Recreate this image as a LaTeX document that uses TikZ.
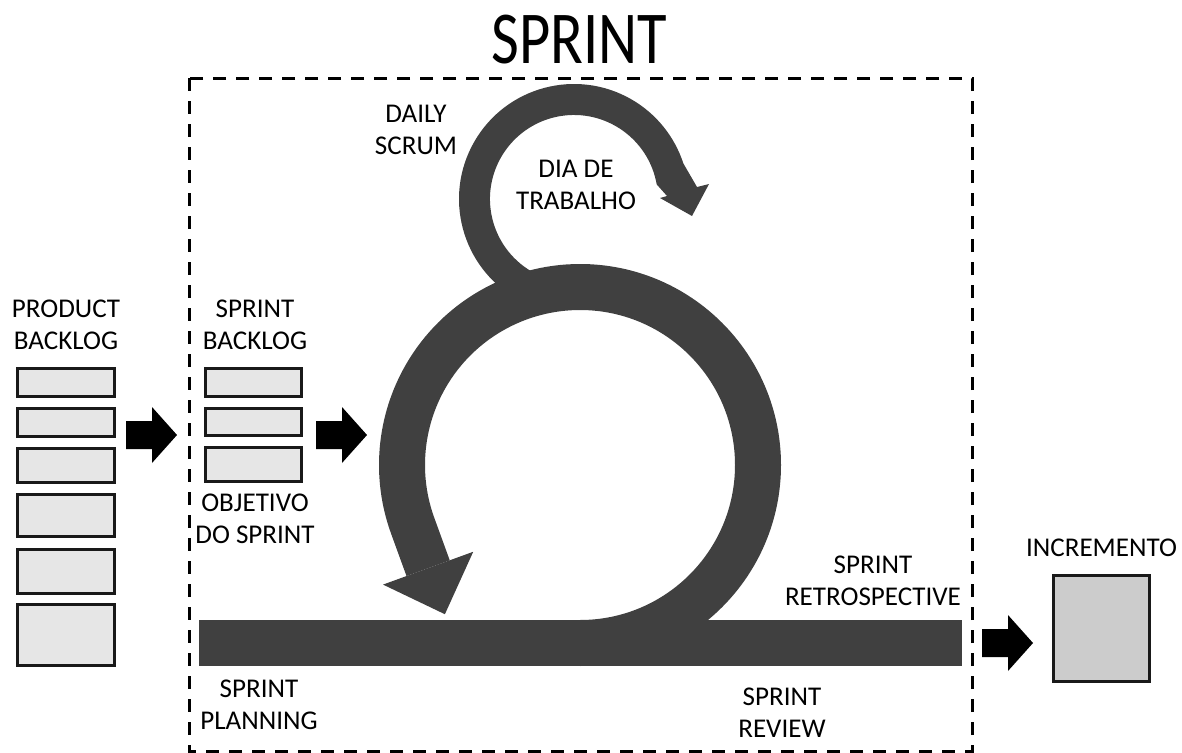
\documentclass[tikz,border=0pt]{standalone}
\usepackage{fontspec}
\setmainfont{Carlito}
\usetikzlibrary{calc}
\definecolor{scrumgray}{HTML}{404040}
\definecolor{itemgray}{HTML}{E6E6E6}
\definecolor{incgray}{HTML}{CCCCCC}
\begin{document}
\begin{tikzpicture}[x=0.75pt,y=-0.75pt,
  lbl/.style={font=\fontsize{20.3}{24}\selectfont, align=center, inner sep=0pt, anchor=base},
  item/.style={draw=black!90, line width=2.25pt, fill=itemgray},
  frame/.style={draw=black, line width=2.25pt, dash pattern=on 9.75pt off 7.5pt},
  band/.style={draw=scrumgray, line cap=butt},
  pics/blockarrow/.style={code={
    \fill[black] (0,-14) -- (26,-14) -- (26,-28) -- (51,0) -- (26,28) -- (26,14) -- (0,14) -- cycle;}}]
\useasboundingbox (0,0) rectangle (1182,753);

% title and sprint frame
\node[font=\fontsize{56}{60}\selectfont, inner sep=0pt, anchor=base] (title) at (579.5,63) {\scalebox{0.81}[1]{SPRINT}};
\draw[frame] (189,78) rectangle (972,751);

% product backlog (label anchored on its last baseline)
\node[lbl] (pb) at (66,349) {PRODUCT\\BACKLOG};
\draw[item] (17.5,368.5) rectangle (114.5,396.5);
\draw[item] (17.5,408.5) rectangle (114.5,436.5);
\draw[item] (17.5,448.5) rectangle (114.5,482.5);
\draw[item] (17.5,494.5) rectangle (114.5,536.5);
\draw[item] (17.5,549.5) rectangle (114.5,593.5);
\draw[item] (17.5,604.5) rectangle (114.5,665.5);

% sprint backlog
\node[lbl] (sb) at (255,349) {SPRINT\\BACKLOG};
\draw[item] (205.5,368.5) rectangle (301.5,396.5);
\draw[item] (205.5,408.5) rectangle (301.5,435.5);
\draw[item] (205.5,447.5) rectangle (301.5,481.5);
\node[lbl] (goal) at (255,543) {OBJETIVO\\DO SPRINT};

% block arrows
\pic at (126,435) {blockarrow};
\pic at (316,435) {blockarrow};
\pic at (982,643) {blockarrow};

% daily loop as one filled outline: outer arc, arrow head, inner arc
\coordinate (dl) at (660,198);
\coordinate (dtip) at (692,216);
\coordinate (dr) at (709,184);
\fill[scrumgray] (574,199) ++(120:115) arc[start angle=120, end angle=342, radius=115]
  -- (697,187) -- (dr) -- (dtip) -- (dl) -- (667,196) -- (656.7,184.4)
  arc[start angle=350, end angle=120, radius=84] -- cycle;

% sprint cycle
\path (580,465) ++(160:178) ++(70:45) coordinate (send);
\draw[band, line width=34.5pt] (580,465) ++(90:178) arc[start angle=90, end angle=-200, radius=178] -- (send);
\fill[scrumgray] ($(send)+(160:48)$) -- ($(send)+(70:49)$) -- ($(send)+(-20:48)$) -- cycle;

% timeline bar
\fill[scrumgray] (199,620) rectangle (962,666);

% labels
\node[lbl] (daily) at (416,154) {DAILY\\SCRUM};
\node[lbl] (day) at (576,209) {DIA DE\\TRABALHO};
\node[lbl] (retro) at (873,605) {SPRINT\\RETROSPECTIVE};
\node[lbl] (plan) at (259,729) {SPRINT\\PLANNING};
\node[lbl] (review) at (782,737) {SPRINT\\REVIEW};

% increment
\node[lbl] (inc) at (1101.5,556) {INCREMENTO};
\draw[draw=black!90, line width=2.25pt, fill=incgray] (1053.5,575.5) rectangle (1149.5,681.5);
\end{tikzpicture}
\end{document}
